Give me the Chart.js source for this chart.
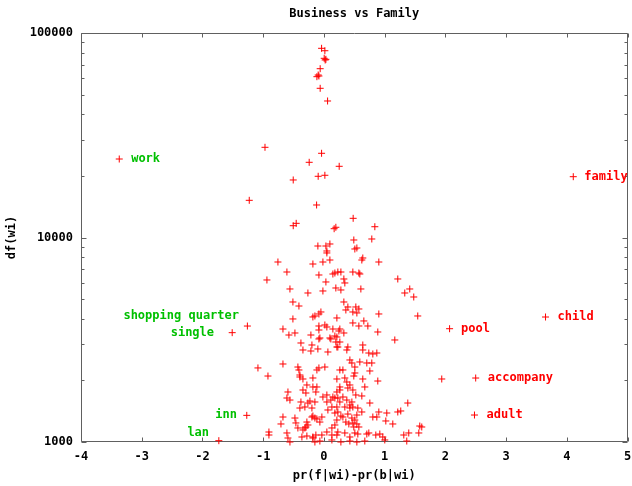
<!DOCTYPE html>
<html><head><meta charset="utf-8">
<style>html,body{margin:0;padding:0;background:#fff}</style>
</head><body>
<canvas id="c" width="632" height="486"></canvas>
<script src="https://cdn.jsdelivr.net/npm/chart.js@4/dist/chart.umd.min.js"></script>
<script>
// ---- data ----
const chartTitle = 'Business vs Family';
const xAxisTitle = 'pr(f|wi)-pr(b|wi)';
const yAxisTitle = 'df(wi)';
const xTickValues = [-4, -3, -2, -1, 0, 1, 2, 3, 4, 5];
const yTickValues = [1000, 10000, 100000];

// unlabeled words: x = pr(f|wi)-pr(b|wi), y = df(wi)
const diffValues = [
  -0.038,0.016,0.005,0.033,0.021,-0.061,-0.094,-0.115,-0.082,-0.061,0.061,
  -0.970,-0.038,-0.242,0.252,-0.505,-0.094,0.016,-1.229,-0.120,0.482,-0.505,-0.456,0.169,0.197,0.839,
  0.493,0.789,-0.099,0.033,0.099,0.049,0.049,0.510,0.543,0.641,0.625,0.905,-0.757,-0.181,-0.016,0.099,-0.609,-0.082,0.148,0.181,
  0.230,0.280,0.477,0.576,0.592,-0.938,0.033,0.329,0.345,-0.559,-0.263,-0.016,0.197,0.280,0.609,1.217,1.414,1.332,1.480,-0.510,
  -0.411,0.329,-0.049,-0.082,-0.181,-0.148,-0.510,0.214,0.395,0.362,0.477,0.526,0.576,0.543,0.905,1.546,-0.674,-0.576,-0.477,-0.082,
  0.016,0.049,-0.082,0.148,0.247,0.263,0.329,0.477,0.576,0.658,0.724,0.888,-0.214,-0.066,0.099,0.181,0.214,1.168,-0.378,-0.345,
  -0.197,-0.214,-0.099,-0.082,0.066,0.115,0.197,0.214,0.263,0.230,0.395,0.378,0.641,0.641,0.740,0.872,0.806,-1.086,-0.921,-0.674,
  -0.428,-0.411,-0.395,-0.082,0.016,-0.395,-0.345,-0.181,-0.115,0.428,0.461,0.510,0.592,0.707,0.789,0.757,0.263,0.313,0.510,0.493,
  0.214,0.345,0.378,0.641,0.888,1.941,-0.592,-0.559,-0.609,-0.345,-0.296,-0.280,-0.115,-0.132,-0.181,-0.016,0.049,0.115,0.148,0.049,
  0.214,0.230,0.263,0.428,0.477,0.395,0.674,0.526,0.625,0.313,0.181,0.378,0.461,-0.378,-0.263,-0.230,-0.395,-0.313,-0.148,-0.197,
  0.757,1.382,0.214,0.345,0.428,0.477,0.428,0.559,0.625,0.230,0.313,0.280,0.395,0.461,0.543,0.510,0.066,0.132,0.181,0.214,
  0.181,-0.674,-0.707,-0.477,-0.461,-0.428,-0.197,-0.181,-0.148,-0.115,-0.066,-0.033,-0.280,-0.263,-0.313,-0.345,0.362,0.411,0.477,0.543,
  0.576,0.493,0.806,0.905,0.872,1.036,1.020,1.135,1.217,1.266,0.132,0.132,0.214,0.230,0.345,0.428,0.510,0.559,0.707,0.740,
  0.855,0.921,0.970,1.003,0.674,0.280,0.428,0.543,1.316,1.398,1.579,1.563,1.365,1.612,-0.905,-0.905,-0.609,-0.592,-0.559,-0.362,
  -0.280,-0.181,-0.148,-0.066,-0.033,0.049,0.132,-0.181,-0.132,-0.296,0.263,0.263
];
const dfValues = [
  84170,81910,75210,74360,73790,66900,62320,61140,61620,53650,46510,
  27610,25810,23320,22290,19110,19920,20150,15200,14420,12410,11420,11730,11040,11220,11290,
  9723,9833,9087,9087,9295,8590,8402,8787,8886,7940,7762,7589,7589,7419,7589,7762,6781,6556,6630,6705,
  6781,6781,6781,6705,6630,6199,6060,6269,5993,5601,5354,5476,5664,5538,5601,6269,5601,5354,5118,4838,
  4624,4838,4323,4227,4087,4133,3996,4041,4574,4422,4323,4574,4472,4275,4227,4133,3569,3336,3412,3692,
  3734,3651,3529,3569,3490,3569,3412,3820,3692,3907,3692,3451,3336,3226,3226,3299,3262,3154,3049,2818,
  2981,2786,2850,3190,2755,3190,3083,2914,3083,2914,2914,2818,2981,2818,2724,2724,2694,2302,2102,2407,
  2326,2250,2126,2302,2326,2079,2033,2056,2250,2518,2434,2326,2462,2434,2434,2225,2250,2250,2175,2102,
  2033,2056,1965,2033,1987,2033,1756,1604,1641,1796,1736,1900,1858,1756,1858,1660,1698,1604,1660,1569,
  1756,1641,1858,1900,1796,1837,1858,1698,1679,1660,1641,1604,1569,1569,1551,1586,1466,1483,1569,1466,
  1551,1551,1483,1483,1466,1483,1517,1466,1402,1402,1325,1340,1370,1310,1355,1281,1434,1483,1386,1281,
  1211,1325,1225,1310,1239,1171,1325,1340,1310,1296,1252,1325,1252,1211,1171,1145,1252,1225,1239,1225,
  1184,1184,1325,1402,1325,1386,1267,1225,1402,1418,1171,1082,1082,1119,1107,1058,1107,1094,1094,1107,
  1082,1094,1058,1023,1011,1000,1011,1000,1082,1107,1197,1107,1011,1184,1119,1082,1107,1046,1000,1058,
  1070,1046,1000,1011,1082,1119,1023,1058,1082,1184,1796,1569
];

// labeled words
const keywords      = ['work','family','child','pool','accompany','adult','shopping quarter','single','inn','lan'];
const keywordClass  = ['business','family','family','family','family','family','business','business','business','business'];
const keywordDiff   = [-3.37, 4.107, 3.65, 2.07, 2.5, 2.48, -1.26, -1.51, -1.27, -1.73];
const keywordDf     = [24200, 19830, 4085, 3581, 2055, 1355, 3690, 3425, 1350, 1015];
// where each word's label is anchored (data coordinates)
const labelAnchorDiff = [-3.174, 4.288, 3.849, 2.259, 2.70, 2.68, -1.398, -1.809, -1.431, -1.891];
const labelAnchorDf   = [24200, 19830, 4085, 3581, 2055, 1355, 4132, 3412, 1355, 1106];

// ---- chart ----
const FONT = '"DejaVu Sans Mono", "Liberation Mono", monospace';
const classColor = { business: '#00c000', family: '#ff0000' };

const points = diffValues.map((x, i) => ({ x, y: dfValues[i] }))
  .concat(keywordDiff.map((x, i) => ({ x, y: keywordDf[i] })));

const framePlugin = {
  id: 'frame',
  beforeDraw(chart) {
    const c = chart.ctx;
    c.save(); c.fillStyle = '#fff'; c.fillRect(0, 0, chart.width, chart.height); c.restore();
  },
  beforeDatasetsDraw(chart) {
    const { ctx, chartArea: a, scales: { x, y } } = chart;
    const L = Math.round(a.left) + 0.5, R = Math.round(a.right) - 0.5;
    const T = Math.round(a.top) + 0.5, B = Math.round(a.bottom) - 0.5;
    ctx.save();
    ctx.strokeStyle = '#606060';
    ctx.lineWidth = 1;
    ctx.beginPath();
    ctx.rect(L, T, R - L, B - T);
    xTickValues.forEach(v => {
      const px = Math.round(x.getPixelForValue(v)) + 0.5;
      ctx.moveTo(px, B); ctx.lineTo(px, B - 4);
      ctx.moveTo(px, T); ctx.lineTo(px, T + 4);
    });
    for (let i = 0; i < yTickValues.length; i++) {
      const base = yTickValues[i];
      for (let m = 1; m <= 9; m++) {
        const v = base * m;
        if (v > y.max) break;
        const len = m === 1 ? 5 : 3;
        const py = Math.round(y.getPixelForValue(v)) + 0.5;
        ctx.moveTo(L, py); ctx.lineTo(L + len, py);
        ctx.moveTo(R, py); ctx.lineTo(R - len, py);
      }
    }
    ctx.stroke();
    ctx.restore();
  },
  afterDatasetsDraw(chart) {
    const { ctx, chartArea: a, scales: { x, y } } = chart;
    ctx.save();
    ctx.font = 'bold 12px ' + FONT;
    ctx.fillStyle = '#000';
    ctx.textBaseline = 'middle';
    ctx.textAlign = 'center';
    const cx = (a.left + a.right) / 2;
    ctx.fillText(chartTitle, cx, 14);
    ctx.fillText(xAxisTitle, cx, 476);
    ctx.save();
    ctx.translate(12, (a.top + a.bottom) / 2);
    ctx.rotate(-Math.PI / 2);
    ctx.fillText(yAxisTitle, 0, 0);
    ctx.restore();
    keywords.forEach((w, i) => {
      ctx.fillStyle = classColor[keywordClass[i]];
      ctx.textAlign = labelAnchorDiff[i] > keywordDiff[i] ? 'left' : 'right';
      ctx.fillText(w, x.getPixelForValue(labelAnchorDiff[i]), y.getPixelForValue(labelAnchorDf[i]));
    });
    ctx.restore();
  }
};

new Chart(document.getElementById('c'), {
  type: 'scatter',
  data: {
    datasets: [{
      data: points,
      pointStyle: 'cross',
      pointRadius: 3.5,
      pointHoverRadius: 3.5,
      borderColor: '#ff0000',
      backgroundColor: '#ff0000',
      borderWidth: 1,
      clip: false
    }]
  },
  options: {
    responsive: false,
    animation: false,
    events: [],
    layout: { padding: { top: 33, right: 4, left: 0, bottom: 0 } },
    plugins: { legend: { display: false }, tooltip: { enabled: false }, title: { display: false } },
    scales: {
      x: {
        type: 'linear', min: -4, max: 5,
        afterBuildTicks: s => { s.ticks = xTickValues.map(v => ({ value: v })); },
        ticks: { color: '#000', font: { family: FONT, size: 12, weight: 'bold' }, padding: 8, maxRotation: 0, autoSkip: false,
                 callback: v => String(v) },
        grid: { display: false, drawTicks: false },
        border: { display: false },
        afterFit: s => { s.height = 44; s.paddingLeft = 0; s.paddingRight = 0; }
      },
      y: {
        type: 'logarithmic', min: 1000, max: 100000,
        afterBuildTicks: s => { s.ticks = yTickValues.map(v => ({ value: v })); },
        ticks: { color: '#000', font: { family: FONT, size: 12, weight: 'bold' }, padding: 8, autoSkip: false,
                 callback: v => String(v) },
        grid: { display: false, drawTicks: false },
        border: { display: false },
        afterFit: s => { s.width = 81; s.paddingTop = 0; s.paddingBottom = 0; }
      }
    }
  },
  plugins: [framePlugin]
});
</script>
</body></html>
